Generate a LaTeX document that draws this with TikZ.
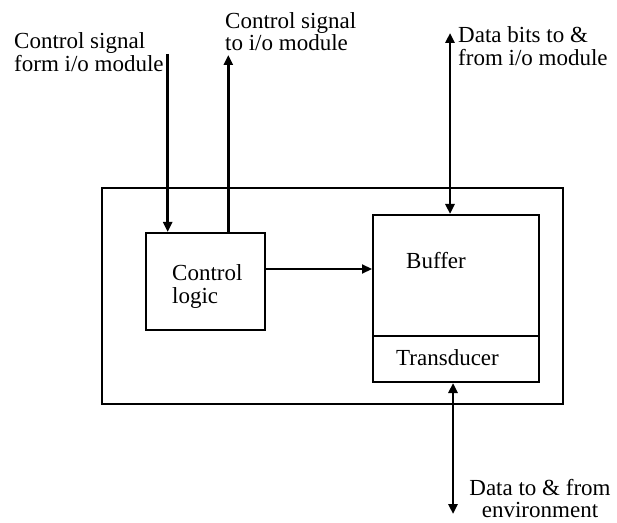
\documentclass[tikz,border=0pt]{standalone}
\usepackage{fontspec}
\setmainfont{Liberation Serif}
\usetikzlibrary{arrows.meta}
\begin{document}
\begin{tikzpicture}[x=1bp,y=-1bp,
  box/.style={draw,line width=2bp,inner sep=0,anchor=north west},
  lbl/.style={inner sep=0,align=left,font=\fontsize{23bp}{22.5bp}\selectfont},
  wire/.style={line width=2.8bp,-{Triangle[length=10bp,width=9bp]}},
  wire2/.style={line width=2.8bp,{Triangle[length=10bp,width=9bp]}-{Triangle[length=10bp,width=9bp]}}]
\useasboundingbox (0,0) rectangle (617,523);
% device frame and inner blocks
\node[box,minimum width=461bp,minimum height=216bp] (dev) at (101,187) {};
\node[box,minimum width=119bp,minimum height=97bp] (ctrl) at (145,232) {};
\node[box,minimum width=166bp,minimum height=121bp] (buf) at (372,214) {};
\node[box,minimum width=166bp,minimum height=46bp] (tra) at (372,335) {};
% block texts (base anchor = baseline of the last line)
\node[lbl,anchor=base west] (ctrlt) at (172,303) {Control\\logic};
\node[lbl,anchor=base west] (buft) at (406,268) {Buffer};
\node[lbl,anchor=base west] (trat) at (396,365) {Transducer};
% outside labels
\node[lbl,anchor=base west] (l1) at (14,71.5) {Control signal\\form i/o module};
\node[lbl,anchor=base west] (l2) at (225,51) {Control signal\\to i/o module};
\node[lbl,anchor=base west] (l3) at (458,65.5) {Data bits to \&\\from i/o module};
\node[lbl,anchor=base,align=center] (l4) at (540,517.5) {Data to \& from\\environment};
% free ends of the signal lines
\coordinate (cin) at (167.7,54);
\coordinate (cout) at (228.3,55);
\coordinate (dio) at (450,33);
\coordinate (env) at (453,514);
% signal lines
\draw[wire] (cin) -- (cin |- ctrl.north);
\draw[wire] (cout |- ctrl.north) -- (cout);
\draw[wire2] (dio) -- (dio |- buf.north);
\draw[wire2] (env |- tra.south) -- (env);
\draw[line width=2.2bp,-{Triangle[length=10bp,width=9bp]}] (ctrl.east |- 0,269) -- (buf.west |- 0,269);
\end{tikzpicture}
\end{document}
